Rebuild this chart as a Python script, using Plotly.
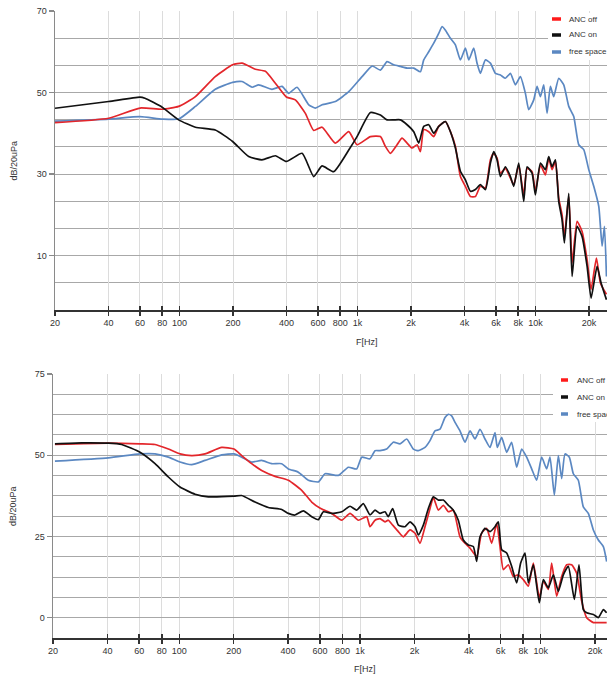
import math
import plotly.graph_objects as go

# ---------------- data ----------------
SERIES_NAMES = ["ANC off", "ANC on", "free space"]

# Top chart
top_off_f = [20, 40, 60, 80, 99, 123, 159, 199, 225, 267, 304, 346, 399, 448, 510, 568, 633, 752, 894, 995, 1183,
             1346, 1436, 1532, 1670, 1781, 1901, 2028, 2163, 2259, 2358, 2516, 2684, 2863, 3122, 3331, 3552, 3790,
             4043, 4313, 4601, 4908, 5236, 5585, 5832, 6088, 6359, 6783, 7234, 7554, 8059, 8599, 8977, 9577, 9998,
             10666, 11378, 11879, 12402, 12950, 13521, 14117, 14550, 15390, 16068, 17140, 18288, 19510, 20548,
             22017, 23188, 25066]
top_off_db = [42.6, 43.7, 46.2, 45.9, 46.6, 49.0, 53.9, 56.8, 57.2, 55.7, 55.2, 52.3, 48.9, 48.2, 44.9, 40.7, 41.5,
              37.6, 40.4, 37.2, 39.2,
              39.2, 36.8, 35.1, 37.2, 38.8, 37.6, 36.4, 37.2, 35.5, 40.9, 40.4, 39.2, 41.7, 42.9, 40.4, 36.8, 29.4,
              27.0, 24.5, 24.5, 27.0, 26.6, 33.5, 35.1, 33.9, 30.2, 31.4, 29.0, 27.4, 32.2, 24.9, 31.4, 30.6, 25.8,
              32.2, 29.8, 33.9, 31.1, 33.1, 24.1, 20.0, 14.7, 24.5, 8.2, 18.4, 15.9, 9.0, 1.7,
              9.4, 3.3, 0.5]

top_on_f = [20, 40, 60, 64, 80, 99, 123, 159, 199, 245, 291, 346, 399, 489, 568, 633, 736, 894, 995, 1183,
            1346, 1467, 1600, 1744, 1901, 2072, 2210, 2358, 2516, 2684, 2863, 3122, 3331, 3552, 3790, 4043, 4313,
            4601, 4908, 5236, 5585, 5832, 6088, 6359, 6783, 7234, 7554, 8059, 8599, 8977, 9577, 9998, 10666, 11378,
            11879, 12402, 12950, 13521, 14117, 14550, 15390, 16068, 17140, 18288, 19510, 20548, 22207, 23387, 25066]
top_on_db = [46.15, 47.8, 48.9, 48.6, 46.4, 43.3, 41.5, 40.8, 38.0, 34.3, 33.5, 34.5, 33.1, 35.1, 29.4, 32.0, 30.6,
             35.9, 39.2, 45.1,
             44.5, 43.3, 43.3, 43.3, 42.1, 40.4, 37.6, 41.7, 42.1, 40.0, 41.7, 42.9, 40.4, 36.4, 30.7, 28.6, 25.8,
             26.2, 27.4, 26.2, 32.7, 35.5, 33.5, 29.4, 31.8, 29.4, 27.0, 32.7, 23.3, 31.8, 30.2, 24.9, 32.7, 31.1,
             34.3, 31.8, 33.5, 23.3, 18.8, 13.1, 25.3, 4.9, 17.2, 14.7, 7.4, -0.4, 7.4, 3.3, -0.8]

top_free_f = [20, 40, 60, 80, 99, 123, 159, 199, 225, 256, 279, 331, 377, 411, 458, 533, 581, 633, 752, 894, 1062,
              1209,
              1346, 1467, 1600, 1744, 1901, 2072, 2259, 2358, 2516, 2684, 2863, 2989, 3122, 3331, 3552, 3790, 4043,
              4222, 4503, 4700, 4908, 5236, 5585, 5960, 6359, 6783, 7234, 7718, 8234, 8785, 9173, 9784, 10216,
              10666, 11136, 11627, 12139, 12673, 13521, 14425, 15390, 16420, 17515, 18688, 19937, 21270, 22692,
              23697, 24424, 25066]
top_free_db = [43.0, 43.5, 44.1, 43.5, 43.5, 46.6, 50.8, 52.5, 52.7, 51.3, 51.9, 50.8, 51.5, 49.8, 51.3, 47.0, 46.2,
               47.0, 47.8, 50.2, 53.9, 56.5,
               55.5, 57.6, 56.8, 56.4, 56.0, 56.0, 55.1, 58.0, 60.0, 62.1, 64.5, 66.2, 65.3, 63.3, 61.7, 58.0, 60.9,
               58.0, 60.9, 57.2, 54.7, 58.0, 57.2, 54.7, 54.3, 53.5, 54.7, 51.9, 53.9, 49.8, 45.8, 48.2, 51.5,
               49.0, 51.9, 44.9, 51.5, 49.0, 53.5, 51.9, 46.6, 44.1, 37.2, 36.0, 31.1, 27.0, 22.1,
               12.3, 17.2, 4.9]

# Bottom chart
bot_off_f = [20.5, 40.5, 60.6, 73.4, 87, 100.9, 117.1, 138.8, 171.6, 200.8, 221.4, 251.5, 285.6, 338.5, 401.2,
             475.6, 540.2, 606, 697, 792, 880.5, 979, 1089, 1136, 1211,
             1290, 1375, 1434, 1516, 1630, 1736, 1891, 2016, 2147, 2289, 2440, 2545, 2713, 2892, 3083, 3285, 3575,
             3811, 4062, 4422, 4712, 5022, 5353, 5706, 5953, 6212, 6619, 7055, 7519, 8014, 8541, 9104, 9827, 10340,
             11021, 11499, 12255, 13062, 13920, 14837, 15811, 16852, 17962, 19558, 21289, 23174]
bot_off_db = [53.3, 53.7, 53.5, 53.3, 51.9, 50.4, 49.9, 50.4, 52.4, 51.9, 49.9, 47.4, 45.3, 43.5, 42.3,
              39.2, 35.6, 33.6, 32.1, 30.0, 32.1, 30.0, 31.1, 28.0, 30.0,
              30.5, 29.5, 30.0, 28.5, 26.5, 24.9, 27.0, 26.0, 22.9, 28.0, 33.6, 37.0, 33.1, 34.6, 32.6, 33.1, 24.9,
              22.9, 21.4, 18.8, 26.0, 27.5, 22.9, 29.0, 21.9, 14.8, 16.3, 12.7, 13.2, 11.7, 9.7, 16.8, 6.1, 11.2,
              8.7, 16.8, 6.6, 12.7, 16.3, 16.3, 13.7, 5.1, 0.0, -1.5, -1.5, -1.5]

bot_on_f = [20.5, 28.8, 40.5, 48, 60.6, 73.4, 87, 100.9, 122.2, 144.8, 200.8, 221.4, 262.4, 311, 368.7, 401.2,
            436.8, 485.8, 540.2, 588.2, 627, 697, 792, 880.5, 958.6, 1043, 1136, 1211,
            1290, 1375, 1434, 1516, 1630, 1774, 1891, 2016, 2103, 2241, 2389, 2545, 2713, 2892, 3083, 3285, 3500,
            3731, 3976, 4238, 4422, 4613, 4917, 5241, 5585, 5828, 6081, 6480, 6907, 7362, 7746, 8186, 8541, 9104,
            9827, 10340, 11021, 11747, 12518, 13342, 14221, 15348, 16288, 17212, 17962, 19558, 20842, 22217, 23174]
bot_on_db = [53.5, 53.8, 53.7, 53.3, 50.9, 47.4, 43.3, 40.2, 38.0, 37.2, 37.4, 37.6, 35.6, 33.9, 33.3, 32.1,
             31.6, 32.9, 31.1, 30.2, 32.6, 32.1, 32.6, 34.3, 33.1, 35.1, 31.6, 33.1,
             32.1, 32.6, 31.1, 33.6, 28.5, 28.0, 29.5, 28.0, 25.5, 28.5, 33.6, 37.2, 36.2, 36.2, 34.6, 33.1, 30.0,
             23.9, 22.4, 21.9, 17.3, 24.9, 27.5, 26.5, 28.0, 29.5, 20.9, 19.9, 15.8, 10.7, 16.8, 19.9, 10.7, 16.3,
             4.6, 11.7, 9.2, 13.2, 8.1, 13.2, 15.8, 5.6, 16.3, 2.5, 1.5, 1.0, 0.0, 2.5, 1.5]

bot_free_f = [20.5, 40.5, 60.6, 73.4, 87, 100.9, 117.1, 138.8, 171.6, 200.8, 221.4, 251.5, 285.6, 324.5, 368.7,
              401.2, 455.7, 517.7, 588.2, 640.5, 759, 862, 958.6, 1022, 1136, 1211,
              1290, 1404, 1529, 1665, 1813, 1973, 2103, 2289, 2440, 2600, 2771, 2954, 3083, 3216, 3356, 3575, 3811,
              4062, 4329, 4613, 4917, 5241, 5585, 5754, 6081, 6480, 6907, 7362, 7845, 8361, 8913, 9499, 10123,
              10790, 11258, 11897, 12518, 13062, 13628, 14403, 15155, 16150, 17212, 18347, 19558, 20842, 22217,
              23174]
bot_free_db = [48.2, 49.2, 50.4, 50.4, 49.4, 47.9, 47.1, 48.4, 50.1, 50.4, 49.4, 47.9, 48.4, 47.4, 47.4,
               45.8, 44.8, 42.3, 41.8, 44.3, 43.8, 46.3, 45.8, 49.4, 48.9, 51.4,
               51.4, 51.9, 54.0, 53.5, 55.0, 51.9, 51.4, 52.4, 54.5, 57.5, 58.0, 61.6, 62.6, 62.1, 60.1, 57.5, 54.0,
               57.5, 55.0, 58.0, 55.0, 52.4, 57.0, 52.4, 55.5, 50.9, 54.0, 46.3, 51.9, 49.4, 45.8, 42.3, 49.4,
               45.8, 49.4, 37.7, 49.9, 42.8, 50.4, 49.4, 44.3, 42.3, 34.1, 32.1, 27.0, 23.9, 21.9,
               17.3]

x_tickvals = [20, 40, 60, 80, 100, 200, 400, 600, 800, 1000, 2000, 4000, 6000, 8000, 10000, 20000]
x_ticktext = ["20", "40", "60", "80", "100", "200", "400", "600", "800", "1k", "2k", "4k", "6k", "8k", "10k", "20k"]
top_y_ticks = [10, 30, 50, 70]
bot_y_ticks = [0, 25, 50, 75]

COLORS = {"ANC off": "#e3262b", "ANC on": "#111111", "free space": "#5b88c2"}

# ---------------- layout geometry ----------------
W, H = 607, 675
ML, MR, MT, MB = 53, 0, 11, 37
PW = W - ML - MR
PH = H - MT - MB


def px(xp):
    return (xp - ML) / PW


def py(yp):
    return (H - MB - yp) / PH


FONT = "Liberation Sans, Arial, sans-serif"
fig = go.Figure()

line_kw = dict(width=1.7)
for name, f, d in [("free space", top_free_f, top_free_db), ("ANC off", top_off_f, top_off_db),
                   ("ANC on", top_on_f, top_on_db)]:
    fig.add_trace(go.Scatter(x=f, y=d, mode="lines", name=name, xaxis="x", yaxis="y",
                             line=dict(color=COLORS[name], shape="spline", smoothing=0.5, **line_kw),
                             showlegend=False))
for name, f, d in [("free space", bot_free_f, bot_free_db), ("ANC off", bot_off_f, bot_off_db),
                   ("ANC on", bot_on_f, bot_on_db)]:
    fig.add_trace(go.Scatter(x=f, y=d, mode="lines", name=name, xaxis="x2", yaxis="y2",
                             line=dict(color=COLORS[name], shape="spline", smoothing=0.5, **line_kw),
                             showlegend=False))
# empty traces to carry the inner tick overlays
fig.add_trace(go.Scatter(x=[], y=[], xaxis="x3", yaxis="y", showlegend=False, hoverinfo="skip"))
fig.add_trace(go.Scatter(x=[], y=[], xaxis="x4", yaxis="y2", showlegend=False, hoverinfo="skip"))

top_xrange = [math.log10(20), math.log10(20) + (W - 55) / 178.0]
bot_xrange = [math.log10(20), math.log10(20) + (W - 53) / 180.7]

xcommon = dict(type="log", tickmode="array", tickvals=x_tickvals, ticktext=x_ticktext,
               showgrid=True, gridcolor="#dcdcdc", gridwidth=1, zeroline=False,
               showline=True, linecolor="#333333", linewidth=1.5,
               ticks="outside", ticklen=4, tickwidth=1.5, tickcolor="#333333",
               tickfont=dict(family=FONT, size=9, color="#333333"))
xinner = dict(type="log", tickmode="array", tickvals=x_tickvals, showticklabels=False,
              showgrid=False, zeroline=False, showline=False,
              ticks="inside", ticklen=4, tickwidth=1.5, tickcolor="#333333")
ycommon = dict(showgrid=True, gridcolor="#a8a8a8", gridwidth=1, zeroline=False,
               showline=True, linecolor="#8a8a8a", linewidth=1.5,
               ticks="outside", ticklen=5, tickwidth=1.2, tickcolor="#8a8a8a",
               tickfont=dict(family=FONT, size=9, color="#333333"), tickmode="array")

top_dom_y = [py(310), py(11)]
bot_dom_y = [py(638), py(374)]

fig.update_layout(
    width=W, height=H,
    margin=dict(l=ML, r=MR, t=MT, b=MB, pad=0),
    paper_bgcolor="white", plot_bgcolor="white",
    showlegend=False,
    font=dict(family=FONT, size=9, color="#333333"),
    xaxis=dict(domain=[px(55), 1], anchor="y", range=top_xrange, **xcommon),
    xaxis3=dict(domain=[px(55), 1], anchor="y", overlaying="x", range=top_xrange, **xinner),
    yaxis=dict(domain=top_dom_y, anchor="x", range=[-10 / 3, 70], tickvals=top_y_ticks,
               minor=dict(tick0=10, dtick=20 / 3, showgrid=True, gridcolor="#a8a8a8", ticks=""),
               **ycommon),
    xaxis2=dict(domain=[0, 1], anchor="y2", range=bot_xrange, **xcommon),
    xaxis4=dict(domain=[0, 1], anchor="y2", overlaying="x2", range=bot_xrange, **xinner),
    yaxis2=dict(domain=bot_dom_y, anchor="x2", range=[-6.25, 75], tickvals=bot_y_ticks,
                minor=dict(tick0=0, dtick=6.25, showgrid=True, gridcolor="#a8a8a8", ticks=""),
                **ycommon),
)

shapes = []
annotations = []

# axis titles
for ycen in [(11 + 310) / 2, (374 + 638) / 2]:
    annotations.append(dict(text="dB/20uPa", xref="paper", yref="paper", x=px(13), y=py(ycen),
                            xanchor="center", yanchor="middle", textangle=-90, showarrow=False,
                            font=dict(family=FONT, size=9, color="#333333")))
for xc, yc in [(367, 342), (365, 669)]:
    annotations.append(dict(text="F[Hz]", xref="paper", yref="paper", x=px(xc), y=py(yc),
                            xanchor="center", yanchor="middle", showarrow=False,
                            font=dict(family=FONT, size=9, color="#333333")))

# legends (drawn manually to match the short swatches)
legend_specs = [
    dict(box=(548, 13, 607, 60), rows=[19, 35, 52], sw=(552, 561), tx=567),
    dict(box=(553, 368, 607, 422), rows=[380, 397, 414], sw=(561, 568), tx=575),
]
for spec in legend_specs:
    x0, y0, x1, y1 = spec["box"]
    shapes.append(dict(type="rect", xref="paper", yref="paper", x0=px(x0), x1=px(x1) + 0.01,
                       y0=py(y1), y1=py(y0), fillcolor="white", line=dict(width=0), layer="above"))
    for name, ry in zip(SERIES_NAMES, spec["rows"]):
        shapes.append(dict(type="line", xref="paper", yref="paper", x0=px(spec["sw"][0]),
                           x1=px(spec["sw"][1]), y0=py(ry), y1=py(ry),
                           line=dict(color=COLORS[name] if name != "ANC off" else "#ff1a1a", width=3.5),
                           layer="above"))
        annotations.append(dict(text=name, xref="paper", yref="paper", x=px(spec["tx"]), y=py(ry),
                                xanchor="left", yanchor="middle", showarrow=False,
                                font=dict(family=FONT, size=8, color="#333333")))

fig.update_layout(shapes=shapes, annotations=annotations)
fig.write_html(
    "out.html",
    config={"displayModeBar": False, "staticPlot": True},
    post_script="document.body.style.margin='0';document.body.style.overflow='hidden';",
)
